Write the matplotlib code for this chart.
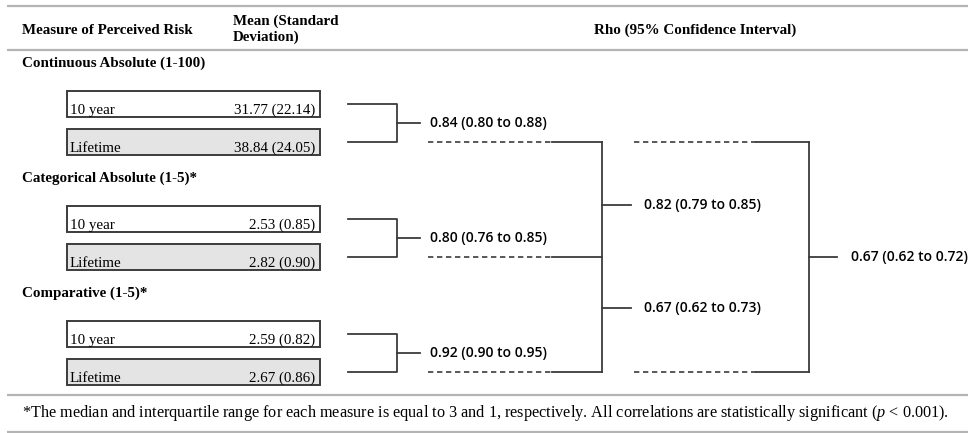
import matplotlib
matplotlib.use("Agg")
import matplotlib.pyplot as plt
from matplotlib.patches import Rectangle

plt.rcParams['mathtext.fontset'] = 'custom'
plt.rcParams['mathtext.rm'] = 'Liberation Serif'
plt.rcParams['mathtext.it'] = 'Liberation Serif:italic'

# ---- data ----
groups = ["Continuous Absolute (1-100)", "Categorical Absolute (1-5)*", "Comparative (1-5)*"]
row_labels = ["10 year", "Lifetime"]
means = [[31.77, 38.84], [2.53, 2.82], [2.59, 2.67]]
sds = [[22.14, 24.05], [0.85, 0.90], [0.82, 0.86]]
within_rho = [0.84, 0.80, 0.92]
within_lo = [0.80, 0.76, 0.90]
within_hi = [0.88, 0.85, 0.95]
between_rho = [0.82, 0.67]
between_lo = [0.79, 0.62]
between_hi = [0.85, 0.73]
overall_rho = 0.67
overall_lo = 0.62
overall_hi = 0.72
headers = ["Measure of Perceived Risk", "Mean (Standard\nDeviation)", "Rho (95% Confidence Interval)"]
footnote = ("*The median and interquartile range for each measure is equal to 3 and 1, "
            "respectively. All correlations are statistically significant ($\\mathit{p}$ < 0.001).")

# ---- figure ----
fig = plt.figure(figsize=(9.68, 4.33), dpi=100)
ax = fig.add_axes([0, 0, 1, 1])
ax.set_xlim(0, 968)
ax.set_ylim(433, 0)
ax.axis('off')

SERIF = 'Liberation Serif'
SANS = 'Open Sans'
LC = '#3c3c3c'
RULE = '#b4b4b4'
fs = 10.8
fs_rho = 10.0

def ci(r, lo, hi):
    return f"{r:.2f} ({lo:.2f} to {hi:.2f})"

# rules
for y in [6, 50, 395, 432]:
    ax.plot([7, 968], [y, y], color=RULE, lw=1.6, solid_capstyle='butt')

# headers
ax.text(22, 30, headers[0], family=SERIF, weight='bold', fontsize=fs, va='center', ha='left')
ax.text(233, 29, headers[1], family=SERIF, weight='bold', fontsize=fs, va='center', ha='left',
        linespacing=1.2)
ax.text(695, 30, headers[2], family=SERIF, weight='bold', fontsize=fs, va='center', ha='center')

# groups and boxes
box_x0, box_x1, box_h = 67, 320, 26
centers = []
for g, name in enumerate(groups):
    base = 91 + 115 * g
    ax.text(22, base - 28, name, family=SERIF, weight='bold', fontsize=fs, va='center', ha='left')
    cs = []
    for r, lab in enumerate(row_labels):
        top = base + 38 * r
        fc = 'white' if r == 0 else '#e4e4e4'
        ax.add_patch(Rectangle((box_x0, top), box_x1 - box_x0, box_h, fc=fc, ec=LC, lw=1.4))
        ax.text(box_x0 + 3, top + box_h - 3, lab, family=SERIF, fontsize=fs, va='baseline', ha='left')
        ax.text(box_x1 - 5, top + box_h - 3, f"{means[g][r]:.2f} ({sds[g][r]:.2f})",
                family=SERIF, fontsize=fs, va='baseline', ha='right')
        cs.append(top + box_h / 2)
    centers.append(cs)
    # level-1 bracket
    y0, y1 = cs
    ax.plot([348, 397, 397, 348], [y0, y0, y1, y1], color=LC, lw=1.3)
    ym = (y0 + y1) / 2
    ax.plot([397, 420], [ym, ym], color=LC, lw=1.3)
    ax.text(430, ym, ci(within_rho[g], within_lo[g], within_hi[g]), family=SANS, weight='semibold',
            fontsize=fs_rho, va='center', ha='left')
    # dashed continuation
    ax.plot([428, 552], [y1, y1], color=LC, lw=1.2, ls=(0, (3.2, 2.2)))
    ax.plot([552, 602], [y1, y1], color=LC, lw=1.3)

# level-2 bracket
life = [c[1] for c in centers]
ax.plot([602, 602], [life[0], life[2]], color=LC, lw=1.3)
tick2 = [205, 308]
for k in range(2):
    ax.plot([602, 631], [tick2[k], tick2[k]], color=LC, lw=1.3)
    ax.text(644, tick2[k], ci(between_rho[k], between_lo[k], between_hi[k]), family=SANS,
            weight='semibold', fontsize=fs_rho, va='center', ha='left')

# level-3 bracket
for y in [life[0], life[2]]:
    ax.plot([634, 756], [y, y], color=LC, lw=1.2, ls=(0, (3.2, 2.2)))
    ax.plot([756, 809], [y, y], color=LC, lw=1.3)
ax.plot([809, 809], [life[0], life[2]], color=LC, lw=1.3)
ax.plot([809, 837], [life[1], life[1]], color=LC, lw=1.3)
ax.text(851, life[1], ci(overall_rho, overall_lo, overall_hi), family=SANS, weight='semibold',
        fontsize=fs_rho, va='center', ha='left')

# footnote
ax.text(22, 413, footnote, family=SERIF, fontsize=11.7, va='center', ha='left')

fig.savefig("out.png", dpi=100)
